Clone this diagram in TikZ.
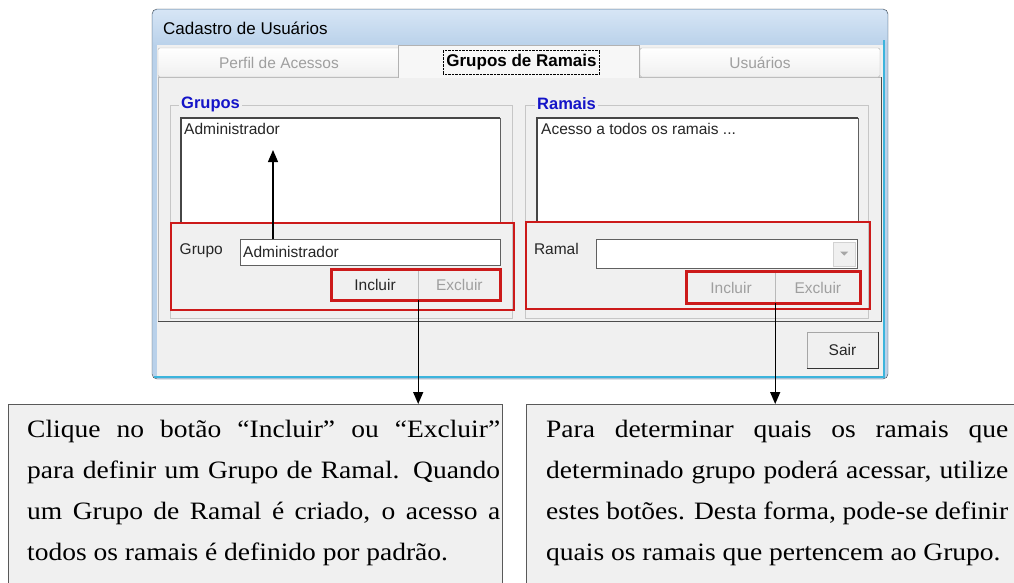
\documentclass[tikz,border=0pt]{standalone}
\usepackage{fontspec}
\usepackage{tikz}
\usetikzlibrary{arrows.meta,positioning,fit,calc}
\newfontfamily\uifont{Liberation Sans}
\newfontfamily\notefont[FakeStretch=1.1]{Liberation Serif}
\definecolor{winbg}{HTML}{F0F0F0}
\definecolor{titletop}{HTML}{D6E5F5}
\definecolor{titlebot}{HTML}{B9D1EA}
\definecolor{winedge}{HTML}{434B52}
\definecolor{framecyan}{HTML}{3CB4DC}
\definecolor{uired}{HTML}{CC1A1A}
\definecolor{grpblue}{HTML}{1414C8}
\definecolor{tabsel}{HTML}{F7F7F7}

\begin{document}
\begin{tikzpicture}[x=1pt,y=-1pt,
    ui/.style={font={\uifont\fontsize{15.5}{18}\selectfont}, text=black!85, inner sep=0pt},
    uibold/.style={font={\uifont\bfseries\fontsize{16.5}{19}\selectfont}, inner sep=0pt},
    dim/.style={text=gray!75},
    sunken/.style={draw=gray!75!black, fill=white, inner sep=0pt},
    btn/.style={ui, draw=gray!55, fill=winbg, minimum height=30pt},
    redbox/.style={draw=uired, line width=1.3pt},
    redbtn/.style={draw=uired, line width=3pt, inner sep=0pt},
    groupbox/.style={draw=gray!45},
    tabbox/.style={draw=gray!60, top color=white, bottom color=gray!12, rounded corners=2pt},
    notebox/.style={draw=gray!70!black, fill=winbg, line width=1.2pt, inner sep=0pt},
    notetext/.style={font={\notefont\fontsize{25}{41}\selectfont}, align=justify, inner sep=0pt, anchor=north west},
    arr/.style={-{Triangle[length=12pt,width=10pt]}, line width=1.3pt}]

  \useasboundingbox (0,0) rectangle (1014,582);
  \clip (0,0) rectangle (1014,582);

  % window
  \draw[fill=titlebot, draw=winedge, rounded corners=5pt] (152,9) rectangle (888,379);
  \shade[top color=titletop, bottom color=titlebot, rounded corners=4pt] (153,10) rectangle (887,46);
  \fill[winbg] (157,45) rectangle (883,376);
  \draw[framecyan, line width=1.2pt] (884,40) -- (884,377) -- (154,377);
  \node[ui, anchor=west, font={\uifont\fontsize{17}{20}\selectfont}, text=black] (title) at (163,28) {Cadastro de Usuários};

  % panel and tabs
  \draw[draw=gray!55, fill=winbg] (158,77) rectangle (881,321);
  \draw[gray!60!black] (158,321) -- (881,321) -- (881,77);
  \node[tabbox, ui, dim, minimum width=242pt, minimum height=29pt] (tabA) at (279,62.5) {Perfil de Acessos};
  \node[tabbox, ui, dim, minimum width=240pt, minimum height=29pt] (tabC) at (760,62.5) {Usuários};
  \path[fill=tabsel, draw=gray!60] (398,78) -- (398,45) -- (639,45) -- (639,78);
  \node[uibold, font={\uifont\bfseries\fontsize{17}{20}\selectfont}, draw, densely dotted,
        inner xsep=3pt, minimum height=24pt] (tabB) at (521.5,62) {Grupos de Ramais};

  % group boxes
  \draw[groupbox] (170,105) rectangle (512,318);
  \draw[groupbox] (525,105) rectangle (868,318);
  \node[uibold, text=grpblue, fill=winbg, inner xsep=2pt, anchor=west] (grpA) at (179,104) {Grupos};
  \node[uibold, text=grpblue, fill=winbg, inner xsep=2pt, anchor=west] (grpB) at (535,104) {Ramais};

  % list boxes
  \node[sunken, minimum width=319pt, minimum height=104pt, anchor=north west] (lstA) at (181,118) {};
  \node[sunken, minimum width=321pt, minimum height=104pt, anchor=north west] (lstB) at (537,118) {};
  \foreach \l in {lstA,lstB}
    \draw[gray!55!black, line width=2pt] (\l.south west) -- (\l.north west) -- (\l.north east);
  \node[ui, anchor=west] (itemA) at (184,129) {Administrador};
  \node[ui, anchor=west] (itemB) at (541,129) {Acesso a todos os ramais ...};

  % red areas
  \draw[redbox] (171,223) rectangle (514,310);
  \draw[redbox] (526,222) rectangle (870,309);

  % fields
  \node[sunken, minimum width=260pt, minimum height=26pt, anchor=north west] (fieldA) at (240,239) {};
  \node[ui, left=17pt of fieldA, yshift=2pt] (lblA) {Grupo};
  \node[ui, right=3pt of fieldA.west] (valA) {Administrador};
  \node[sunken, minimum width=261pt, minimum height=29pt, anchor=north west] (comboB) at (596,239) {};
  \node[ui, left=17pt of comboB, yshift=5pt] (lblB) {Ramal};
  \node[draw=gray!35, fill=winbg, minimum width=22pt, minimum height=24pt, inner sep=0pt, anchor=east] (dropB) at ([xshift=-2pt]comboB.east) {};
  \fill[gray!70] ($(dropB.center)+(-4,-2)$) -- ++(8,0) -- ++(-4,4) -- cycle;

  % buttons
  \node[btn, minimum width=86pt] (inclA) at (375,285) {Incluir};
  \node[btn, dim, minimum width=82pt, right=0pt of inclA] (exclA) {Excluir};
  \node[redbtn, fit=(inclA)(exclA)] (selA) {};
  \node[btn, dim, minimum width=88pt, minimum height=31pt] (inclB) at (731,287.5) {Incluir};
  \node[btn, dim, minimum width=85pt, minimum height=31pt, right=0pt of inclB] (exclB) {Excluir};
  \node[redbtn, fit=(inclB)(exclB)] (selB) {};
  \node[btn, draw=gray!70, minimum width=71pt, minimum height=36pt] (sair) at (842.5,350) {Sair};
  \draw[gray!40!black, line width=1.2pt] (sair.south west) -- (sair.south east) -- (sair.north east);

  % notes
  \node[notebox, minimum width=494pt, minimum height=220pt, anchor=north west] (noteA) at (8,404) {};
  \node[notebox, minimum width=520pt, minimum height=220pt, anchor=north west] (noteB) at (526,404) {};
  \node[notetext, text width=473pt] (txtA) at (27,413) {\parfillskip=0pt \hyphenpenalty=10000 \tolerance=10000
    \rule{0pt}{24pt}Clique no botão “Incluir” ou “Excluir”\linebreak
    para definir um Grupo de Ramal. Quando\linebreak
    um Grupo de Ramal é criado, o acesso a\linebreak
    todos os ramais é definido por padrão.};
  \node[notetext, text width=462pt] (txtB) at (546,413) {\parfillskip=0pt \hyphenpenalty=10000 \tolerance=10000
    \rule{0pt}{24pt}Para determinar quais os ramais que\linebreak
    determinado grupo poderá acessar, utilize\linebreak
    estes botões. Desta forma, pode-se definir\linebreak
    quais os ramais que pertencem ao Grupo.};

  % arrows
  \coordinate (tipA) at (273,150);
  \draw[arr] (fieldA.north -| tipA) -- (tipA);
  \draw[arr] (inclA.south east) -- (inclA.south east |- noteA.north);
  \draw[arr] (inclB.south east) -- (inclB.south east |- noteB.north);
\end{tikzpicture}
\end{document}
